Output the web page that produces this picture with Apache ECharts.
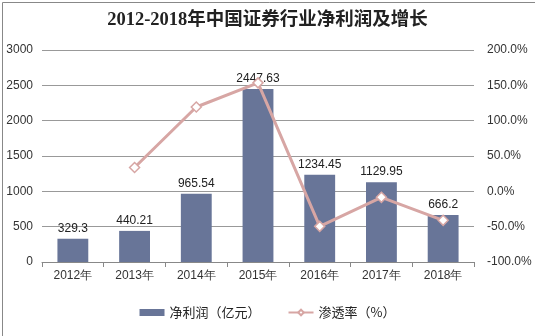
<!DOCTYPE html>
<html>
<head>
<meta charset="utf-8">
<script src="https://cdn.jsdelivr.net/npm/echarts@6/dist/echarts.min.js"></script>
<style>
  html, body { margin: 0; padding: 0; background: #fff; }
  #chart { width: 535px; height: 336px; }
</style>
</head>
<body>
<div id="chart"></div>
<script>
// 2012-2018 net profit of China's securities industry and its growth rate
const years = ['2012年', '2013年', '2014年', '2015年', '2016年', '2017年', '2018年'];
const netProfit = [329.3, 440.21, 965.54, 2447.63, 1234.45, 1129.95, 666.2];
const growthRate = [null, 33.68, 119.34, 153.50, -49.57, -8.47, -41.04];

const chart = echarts.init(document.getElementById('chart'), null, { renderer: 'canvas' });

const axisFont = { fontFamily: 'Liberation Sans, Arial, sans-serif', fontSize: 12, color: '#333' };

chart.setOption({
  animation: false,
  backgroundColor: '#fff',
  title: {
    text: '2012-2018年中国证券行业净利润及增长',
    left: 'center',
    top: 6,
    textStyle: {
      fontFamily: 'Liberation Serif, "Noto Sans CJK SC", serif',
      fontSize: 18.5,
      fontWeight: 'bold',
      color: '#222'
    }
  },
  graphic: [{
    type: 'rect',
    left: 0, top: 0,
    shape: { x: 0.5, y: 0.5, width: 534, height: 335 },
    style: { fill: 'none', stroke: '#888', lineWidth: 1 },
    silent: true
  }],
  legend: {
    bottom: 12,
    left: 'center',
    itemWidth: 25,
    itemHeight: 7,
    itemGap: 27,
    textStyle: { fontFamily: '"Noto Sans CJK SC", sans-serif', fontSize: 13, color: '#222' },
    data: [
      { name: '净利润（亿元）', icon: 'rect' },
      { name: '渗透率（%）' }
    ]
  },
  grid: { left: 42, right: 61, top: 50, bottom: 74 },
  xAxis: {
    type: 'category',
    data: years,
    axisLine: { lineStyle: { color: '#888' } },
    axisTick: { show: true, length: 5, lineStyle: { color: '#888' } },
    axisLabel: Object.assign({ margin: 8 }, axisFont)
  },
  yAxis: [
    {
      type: 'value',
      min: 0, max: 3000, interval: 500,
      axisLine: { show: false },
      axisTick: { show: false },
      splitLine: { lineStyle: { color: '#999' } },
      axisLabel: Object.assign({ margin: 9, formatter: v => String(v) }, axisFont)
    },
    {
      type: 'value',
      min: -100, max: 200, interval: 50,
      axisLine: { show: false },
      axisTick: { show: false },
      splitLine: { show: false },
      axisLabel: Object.assign({ margin: 13, formatter: v => v.toFixed(1) + '%' }, axisFont)
    }
  ],
  series: [
    {
      name: '净利润（亿元）',
      type: 'bar',
      data: netProfit,
      barWidth: '50%',
      itemStyle: { color: '#687598' },
      label: {
        show: true,
        position: 'top',
        distance: 4,
        fontFamily: 'Liberation Sans, Arial, sans-serif',
        fontSize: 12,
        color: '#222'
      },
      z: 2
    },
    {
      name: '渗透率（%）',
      type: 'line',
      yAxisIndex: 1,
      data: growthRate,
      symbol: 'diamond',
      symbolSize: 10,
      showAllSymbol: true,
      lineStyle: { color: '#D7A6A4', width: 3 },
      itemStyle: { color: '#fff', borderColor: '#D7A6A4', borderWidth: 1.5 },
      z: 3
    }
  ]
});
</script>
</body>
</html>
